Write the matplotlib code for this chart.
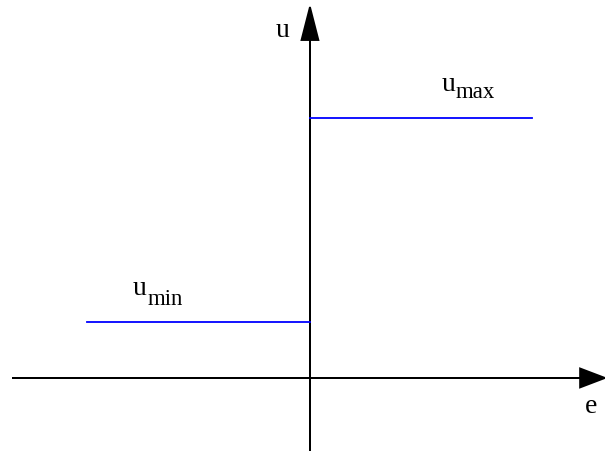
import matplotlib
matplotlib.use("Agg")
import matplotlib.pyplot as plt

# step (relay) characteristic: u = u_min for e < 0, u_max for e > 0
e_neg = [-1.0, 0.0]
e_pos = [0.0, 1.0]
u_min = 0.215
u_max = 1.0

plt.rcParams['font.family'] = ['Liberation Serif', 'DejaVu Serif']

fig = plt.figure(figsize=(6.05, 4.51), dpi=100)
ax = fig.add_axes([0, 0, 1, 1])
ax.set_xlim(-1.393, 1.326)
ax.set_ylim(-0.281, 1.454)
ax.axis('off')

# axes with arrow heads
ax.arrow(-1.339, 0, 2.665, 0, width=0.0, head_width=0.073, head_length=0.112,
         length_includes_head=True, fc='black', ec='black', lw=1.3)
ax.arrow(0, -0.281, 0, 1.708, width=0.0, head_width=0.076, head_length=0.127,
         length_includes_head=True, fc='black', ec='black', lw=1.3)

ax.plot(e_neg, [u_min, u_min], color='blue', lw=1.3)
ax.plot(e_pos, [u_max, u_max], color='blue', lw=1.3)

# labels
ax.text(-0.153, 1.312, 'u', fontsize=20, ha='left', va='baseline')
ax.text(1.236, -0.135, 'e', fontsize=20, ha='left', va='baseline')
ax.text(0.593, 1.104, 'u', fontsize=20, ha='left', va='baseline')
ax.text(0.656, 1.077, 'max', fontsize=16.5, ha='left', va='baseline')
ax.text(-0.796, 0.319, 'u', fontsize=20, ha='left', va='baseline')
ax.text(-0.728, 0.281, 'min', fontsize=16.5, ha='left', va='baseline')

fig.savefig('out.png', dpi=100)
